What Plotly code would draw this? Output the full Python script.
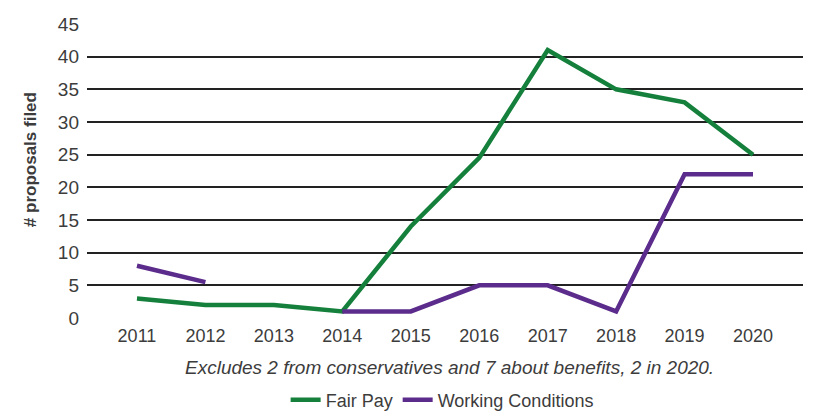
import plotly.graph_objects as go

years = [2011, 2012, 2013, 2014, 2015, 2016, 2017, 2018, 2019, 2020]
fair_pay = [3, 2, 2, 1, 14, 24.5, 41, 35, 33, 25]
working_conditions = [8, 5.5, None, 1, 1, 5, 5, 1, 22, 22]
y_ticks = [0, 5, 10, 15, 20, 25, 30, 35, 40, 45]

FONT = "Liberation Sans, Arial, sans-serif"
TXT = "#3c3c3c"

fig = go.Figure()
fig.add_trace(go.Scatter(x=years, y=fair_pay, mode="lines", name="Fair Pay",
                         line=dict(color="#14803c", width=4.5), connectgaps=False))
fig.add_trace(go.Scatter(x=years, y=working_conditions, mode="lines", name="Working Conditions",
                         line=dict(color="#5b2c8c", width=4.5), connectgaps=False))

# page body has an 8px default margin, so the figure is sized/offset to compensate
fig.update_layout(
    width=805, height=406,
    margin=dict(l=79, r=10, t=16, b=96, autoexpand=False),
    paper_bgcolor="white", plot_bgcolor="white",
    font=dict(family=FONT, size=18, color=TXT),
    showlegend=True,
    legend=dict(orientation="h", x=0.496, xanchor="center", y=-0.279, yanchor="middle",
                font=dict(size=18, color=TXT), traceorder="normal"),
    xaxis=dict(range=[2010.27, 2020.73], tickmode="array", tickvals=years, automargin=False,
               ticktext=[str(y) for y in years], showgrid=False, zeroline=False,
               showline=False, ticks="", ticklabelstandoff=5, tickfont=dict(size=18, color=TXT)),
    yaxis=dict(range=[0, 45], tickmode="array", tickvals=y_ticks, showgrid=True, automargin=False,
               gridcolor="#222222", gridwidth=1.6, zeroline=False, showline=False,
               ticks="", ticklabelstandoff=7, tickfont=dict(size=19, color=TXT)),
    annotations=[
        dict(text="<i>Excludes 2 from conservatives and 7 about benefits, 2 in 2020.</i>",
             xref="paper", yref="paper", x=0.506, y=-0.17, xanchor="center", yanchor="middle",
             showarrow=False, font=dict(size=19, color=TXT)),
        dict(text="<b># proposals filed</b>", textangle=-90,
             xref="paper", yref="paper", x=-0.0796, y=0.537, xanchor="center", yanchor="middle",
             showarrow=False, font=dict(size=17, color=TXT)),
    ],
)

fig.write_html("out.html")
